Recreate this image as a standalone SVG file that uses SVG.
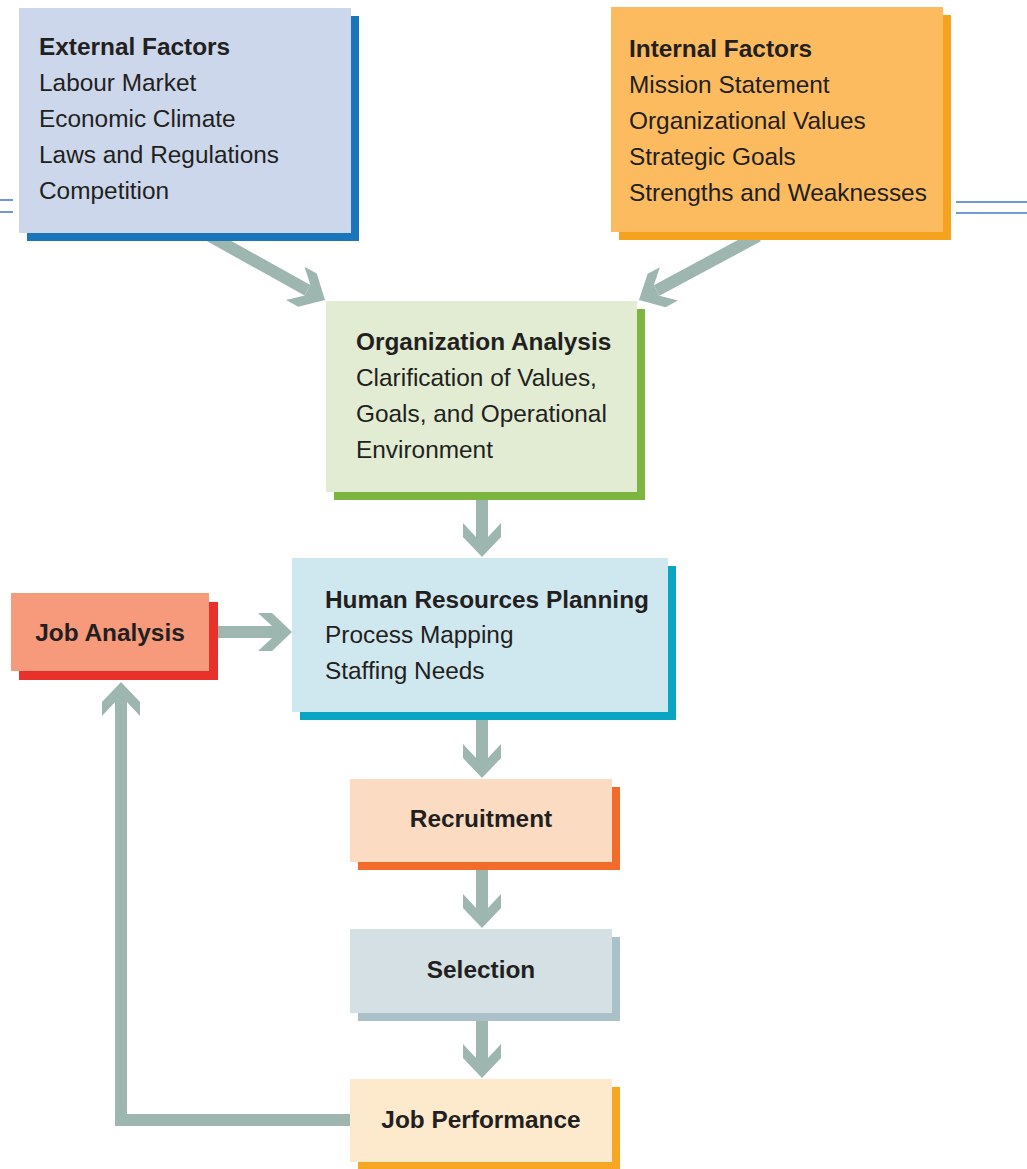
<svg xmlns="http://www.w3.org/2000/svg" width="1027" height="1169" viewBox="0 0 1027 1169">
<style>
text{font-family:"Liberation Sans",Arial,sans-serif;fill:#231f20;font-size:24.4px}
.b{font-weight:bold}
.c{text-anchor:middle}
.conn{fill:none;stroke:#9db6b0;stroke-width:12;stroke-linejoin:miter}
.edge{stroke:#3f78c8;stroke-width:1.5;fill:none}
</style>
<defs>
<marker id="head" viewBox="-20 -20 45 40" markerWidth="45" markerHeight="40" refX="0" refY="0" orient="auto" markerUnits="userSpaceOnUse">
<polygon points="0,-6 -14,-19 0,-19 20,0 0,19 -14,19 0,6" fill="#9db6b0"/>
</marker>
</defs>
<rect width="1027" height="1169" fill="#ffffff"/>
<g id="edge-lines">
<line class="edge" x1="0" y1="200" x2="13" y2="200"/>
<line class="edge" x1="0" y1="212" x2="13" y2="212"/>
<line class="edge" x1="956" y1="202" x2="1027" y2="202"/>
<line class="edge" x1="956" y1="213" x2="1027" y2="213"/>
</g>
<g id="connectors">
<line class="conn" x1="210" y1="236" x2="307.5" y2="290.2" marker-end="url(#head)"/>
<line class="conn" x1="758" y1="236" x2="656.6" y2="290.5" marker-end="url(#head)"/>
<line class="conn" x1="482" y1="495" x2="482" y2="537" marker-end="url(#head)"/>
<line class="conn" x1="212" y1="632" x2="272" y2="632" marker-end="url(#head)"/>
<line class="conn" x1="482" y1="715" x2="482" y2="758" marker-end="url(#head)"/>
<line class="conn" x1="482" y1="865" x2="482" y2="908" marker-end="url(#head)"/>
<line class="conn" x1="482" y1="1015" x2="482" y2="1058" marker-end="url(#head)"/>
<path class="conn" d="M352,1120 H121 V702" marker-end="url(#head)"/>
</g>
<g id="external-factors">
<rect x="27" y="16" width="332" height="225" fill="#1b75bb"/>
<rect x="19" y="8" width="332" height="225" fill="#ccd7ec"/>
<text class="b" x="39" y="55">External Factors</text>
<text x="39" y="91">Labour Market</text>
<text x="39" y="127">Economic Climate</text>
<text x="39" y="163">Laws and Regulations</text>
<text x="39" y="199">Competition</text>
</g>
<g id="internal-factors">
<rect x="619" y="15" width="332" height="225" fill="#f5a31f"/>
<rect x="611" y="7" width="332" height="225" fill="#fcbb5f"/>
<text class="b" x="629" y="56.5">Internal Factors</text>
<text x="629" y="92.5">Mission Statement</text>
<text x="629" y="128.5">Organizational Values</text>
<text x="629" y="164.5">Strategic Goals</text>
<text x="629" y="200.5">Strengths and Weaknesses</text>
</g>
<g id="organization-analysis">
<rect x="334" y="309" width="311" height="191" fill="#7cb53f"/>
<rect x="326" y="301" width="311" height="191" fill="#e1ecd3"/>
<text class="b" x="356" y="350">Organization Analysis</text>
<text x="356" y="386">Clarification of Values,</text>
<text x="356" y="422">Goals, and Operational</text>
<text x="356" y="458">Environment</text>
</g>
<g id="job-analysis">
<rect x="19" y="602" width="199" height="78" fill="#e8312a"/>
<rect x="11" y="593" width="198" height="78" fill="#f7997b"/>
<text class="b c" x="110" y="641">Job Analysis</text>
</g>
<g id="hr-planning">
<rect x="300" y="566" width="376" height="154" fill="#0aa5c2"/>
<rect x="292" y="558" width="376" height="154" fill="#cfe7ef"/>
<text class="b" x="325" y="607.5">Human Resources Planning</text>
<text x="325" y="643">Process Mapping</text>
<text x="325" y="678.5">Staffing Needs</text>
</g>
<g id="recruitment">
<rect x="358" y="787" width="262" height="83" fill="#f26b2a"/>
<rect x="350" y="779" width="262" height="83" fill="#fbdcc3"/>
<text class="b c" x="481" y="827">Recruitment</text>
</g>
<g id="selection">
<rect x="358" y="937" width="262" height="84" fill="#aac1c7"/>
<rect x="350" y="929" width="262" height="84" fill="#d4e0e3"/>
<text class="b c" x="481" y="978">Selection</text>
</g>
<g id="job-performance">
<rect x="358" y="1087" width="262" height="83" fill="#f6a623"/>
<rect x="350" y="1079" width="262" height="83" fill="#fde9cc"/>
<text class="b c" x="481" y="1128">Job Performance</text>
</g>
</svg>
